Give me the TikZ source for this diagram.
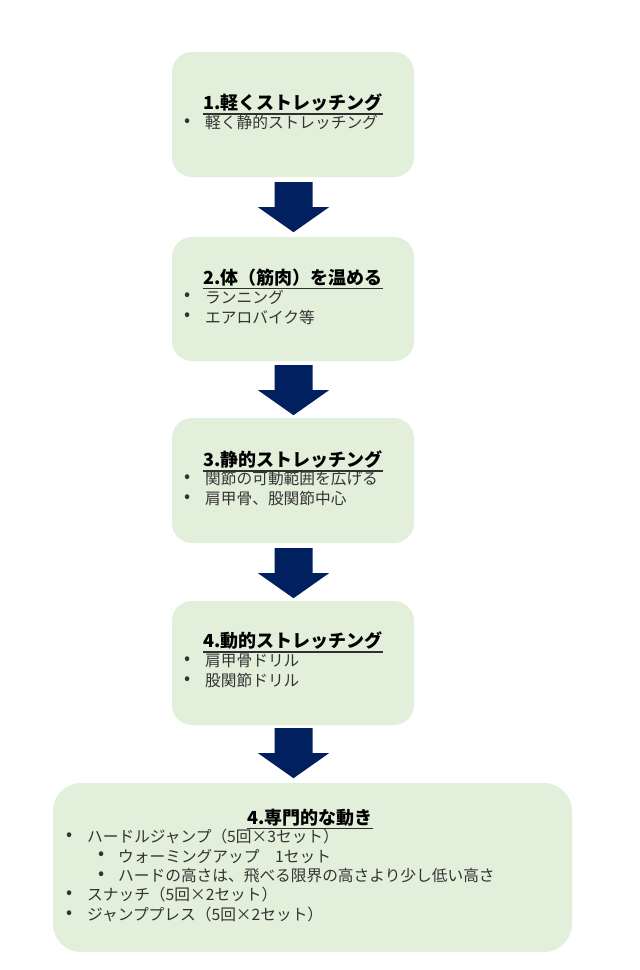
\documentclass[tikz,border=0pt]{standalone}
\usepackage{fontspec}
\setmainfont{Noto Sans CJK JP}
\usetikzlibrary{calc}
\definecolor{boxgreen}{HTML}{E2EFDA}
\definecolor{navy}{HTML}{002060}
\definecolor{textgray}{HTML}{333333}
\definecolor{ulgray}{HTML}{303030}
\begin{document}
\begin{tikzpicture}[x=1pt,y=-1pt,
  box/.style={fill=boxgreen, rounded corners=20pt, inner sep=0pt, draw=none},
  ttl/.style={font=\fontsize{18}{22}\selectfont\bfseries, text=black, inner sep=0pt},
  itm/.style={font=\fontsize{15.7}{19}\selectfont, text=textgray, inner sep=0pt, anchor=west},
  bul/.style={font=\fontsize{18}{20}\selectfont, text=textgray, inner sep=0pt},
  ul/.style={draw=ulgray, line width=1.2pt},
  downarr/.pic={\fill[navy] (-19,0) -- (19,0) -- (19,25) -- (35.5,25) -- (0,50) -- (-35.5,25) -- (-19,25) -- cycle;}
]
\fill[white] (0,0) rectangle (640,970);
\useasboundingbox (0,0) rectangle (640,970);

% boxes
\node[box, minimum width=242pt, minimum height=125pt] (b1) at (293,114.5) {};
\node[box, minimum width=242pt, minimum height=124pt] (b2) at (293,299) {};
\node[box, minimum width=242pt, minimum height=125pt] (b3) at (293,480.5) {};
\node[box, minimum width=242pt, minimum height=124pt] (b4) at (293,663) {};
\node[box, rounded corners=28pt, minimum width=519pt, minimum height=169pt] (b5) at (312.5,867.5) {};

% arrows
\pic at ($(b1.south)+(0.5,5)$) {downarr};
\pic at ($(b2.south)+(0.5,4)$) {downarr};
\pic at ($(b3.south)+(0.5,5)$) {downarr};
\pic at ($(b4.south)+(0.5,3)$) {downarr};

% box 1
\node[ttl] (t1) at (293,103) {1.軽くストレッチング};
\draw[ul] ($(t1.base west)+(0,4)$) -- ($(t1.base east)+(0,4)$);
\node[bul] (d11) at (188,123) {•};
\node[itm] (i11) at (205,123) {軽く静的ストレッチング};

% box 2
\node[ttl] (t2) at (293,278) {2.体（筋肉）を温める};
\draw[ul] ($(t2.base west)+(0,4)$) -- ($(t2.base east)+(0,4)$);
\node[bul] (d21) at (188,297) {•};
\node[itm] (i21) at (205,297) {ランニング};
\node[bul] (d22) at (188,317) {•};
\node[itm] (i22) at (205,317) {エアロバイク等};

% box 3
\node[ttl] (t3) at (293,460) {3.静的ストレッチング};
\draw[ul] ($(t3.base west)+(0,4)$) -- ($(t3.base east)+(0,4)$);
\node[bul] (d31) at (188,479) {•};
\node[itm] (i31) at (205,479) {関節の可動範囲を広げる};
\node[bul] (d32) at (188,499) {•};
\node[itm] (i32) at (205,499) {肩甲骨、股関節中心};

% box 4
\node[ttl] (t4) at (293,641) {4.動的ストレッチング};
\draw[ul] ($(t4.base west)+(0,4)$) -- ($(t4.base east)+(0,4)$);
\node[bul] (d41) at (188,661) {•};
\node[itm] (i41) at (205,661) {肩甲骨ドリル};
\node[bul] (d42) at (188,681) {•};
\node[itm] (i42) at (205,681) {股関節ドリル};

% box 5
\node[ttl] (t5) at (310,818) {4.専門的な動き};
\draw[ul] ($(t5.base west)+(0,4)$) -- ($(t5.base east)+(0,4)$);
\node[bul] (d51) at (70,837) {•};
\node[itm] (i51) at (87,837) {ハードルジャンプ（5回×3セット）};
\node[bul] (d52) at (102,856) {•};
\node[itm] (i52) at (118,856) {ウォーミングアップ　1セット};
\node[bul] (d53) at (102,876) {•};
\node[itm] (i53) at (118,876) {ハードの高さは、飛べる限界の高さより少し低い高さ};
\node[bul] (d54) at (70,895) {•};
\node[itm] (i54) at (87,895) {スナッチ（5回×2セット）};
\node[bul] (d55) at (70,915) {•};
\node[itm] (i55) at (87,915) {ジャンププレス（5回×2セット）};
\end{tikzpicture}
\end{document}
